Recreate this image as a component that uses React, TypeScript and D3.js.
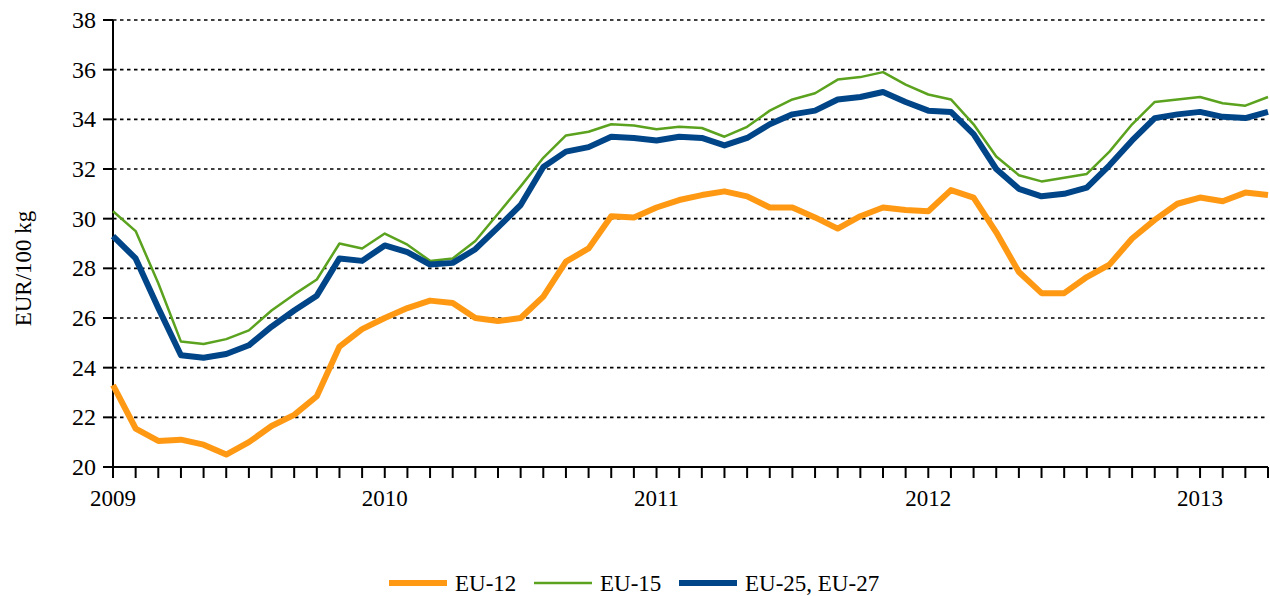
import React from "react";
import * as d3 from "d3";

// monthly prices, Jan 2009 - Apr 2013
const months = d3.range(52);
const yearLabels = ["2009", "2010", "2011", "2012", "2013"];
const yTicks = [20, 22, 24, 26, 28, 30, 32, 34, 36, 38];

const eu12 = [
  23.3, 21.55, 21.05, 21.1, 20.9, 20.5, 21.0, 21.65, 22.1, 22.85, 24.85, 25.55,
  26.0, 26.4, 26.7, 26.6, 26.0, 25.88, 26.0, 26.86, 28.27, 28.8, 30.1, 30.05,
  30.45, 30.75, 30.95, 31.1, 30.9, 30.45, 30.45, 30.05, 29.6, 30.1, 30.45, 30.35,
  30.3, 31.15, 30.85, 29.45, 27.85, 27.0, 27.0, 27.65, 28.15, 29.2, 29.95, 30.6,
  30.85, 30.7, 31.05, 30.95,
];
const eu15 = [
  30.3, 29.5, 27.4, 25.05, 24.95, 25.15, 25.5, 26.3, 26.95, 27.55, 29.0, 28.8,
  29.4, 28.95, 28.3, 28.4, 29.1, 30.2, 31.3, 32.45, 33.35, 33.5, 33.8, 33.75,
  33.6, 33.7, 33.65, 33.3, 33.7, 34.35, 34.8, 35.05, 35.6, 35.7, 35.9, 35.4,
  35.0, 34.8, 33.8, 32.5, 31.75, 31.5, 31.65, 31.8, 32.7, 33.8, 34.7, 34.8,
  34.9, 34.65, 34.55, 34.9,
];
const eu27 = [
  29.3, 28.4, 26.4, 24.5, 24.4, 24.55, 24.9, 25.65, 26.3, 26.9, 28.4, 28.3,
  28.92, 28.65, 28.15, 28.22, 28.77, 29.65, 30.55, 32.08, 32.7, 32.88, 33.3, 33.25,
  33.15, 33.3, 33.25, 32.95, 33.25, 33.8, 34.2, 34.35, 34.8, 34.9, 35.1, 34.7,
  34.35, 34.3, 33.4, 32.0, 31.2, 30.9, 31.0, 31.25, 32.15, 33.15, 34.05, 34.2,
  34.3, 34.1, 34.05, 34.3,
];

const series = [
  { name: "EU-12", values: eu12, color: "#ff9914", width: 6 },
  { name: "EU-15", values: eu15, color: "#5ba21e", width: 2.5 },
  { name: "EU-25, EU-27", values: eu27, color: "#004588", width: 6 },
];

const W = 1270;
const H = 596;
const m = { left: 113, right: 1268, top: 20, bottom: 467 };
const font = "Liberation Serif, Times New Roman, DejaVu Serif, serif";

const App = () => {
  const x = d3.scaleLinear().domain([0, 51]).range([m.left, m.right]);
  const y = d3.scaleLinear().domain([20, 38]).range([m.bottom, m.top]);
  const line = d3
    .line<number>()
    .x((d, i) => x(i))
    .y((d) => y(d));

  const legendX = [389, 534, 679];

  return (
    <svg
      width={W}
      height={H}
      style={{ position: "absolute", left: 0, top: 0, background: "#fff", fontFamily: font }}
    >
      {/* grid */}
      {yTicks.slice(1).map((t) => (
        <line
          key={"g" + t}
          x1={m.left}
          x2={m.right}
          y1={y(t)}
          y2={y(t)}
          stroke="#000"
          strokeWidth={1.6}
          strokeDasharray="3.5,3.5"
        />
      ))}
      {/* y axis */}
      <line x1={m.left} x2={m.left} y1={m.top} y2={m.bottom} stroke="#000" strokeWidth={2} />
      {yTicks.map((t) => (
        <g key={"y" + t}>
          <line x1={m.left - 10} x2={m.left} y1={y(t)} y2={y(t)} stroke="#000" strokeWidth={2} />
          <text x={m.left - 17} y={y(t)} dy="0.34em" textAnchor="end" fontSize={24} fill="#000" style={{ fontFamily: font }}>
            {t}
          </text>
        </g>
      ))}
      <text
        transform={`translate(31,${(m.top + m.bottom) / 2 + 25}) rotate(-90)`}
        textAnchor="middle"
        fontSize={23}
        fill="#000"
        style={{ fontFamily: font }}
      >
        EUR/100 kg
      </text>
      {/* x axis */}
      <line x1={m.left} x2={m.right} y1={m.bottom} y2={m.bottom} stroke="#000" strokeWidth={2} />
      {months.map((i) => (
        <line key={"xt" + i} x1={x(i)} x2={x(i)} y1={m.bottom} y2={m.bottom + 11} stroke="#000" strokeWidth={2} />
      ))}
      {yearLabels.map((lab, k) => (
        <text key={lab} x={x(k * 12)} y={m.bottom + 39} textAnchor="middle" fontSize={23} fill="#000" style={{ fontFamily: font }}>
          {lab}
        </text>
      ))}
      {/* lines */}
      {series.map((s) => (
        <path
          key={s.name}
          d={line(s.values) || ""}
          fill="none"
          stroke={s.color}
          strokeWidth={s.width}
          strokeLinejoin="round"
        />
      ))}
      {/* legend */}
      {series.map((s, k) => (
        <g key={"l" + s.name}>
          <line
            x1={legendX[k]}
            x2={legendX[k] + 58}
            y1={583}
            y2={583}
            stroke={s.color}
            strokeWidth={s.width}
          />
          <text x={legendX[k] + 66} y={591} fontSize={23} fill="#000" style={{ fontFamily: font }}>
            {s.name}
          </text>
        </g>
      ))}
    </svg>
  );
};

export default App;
